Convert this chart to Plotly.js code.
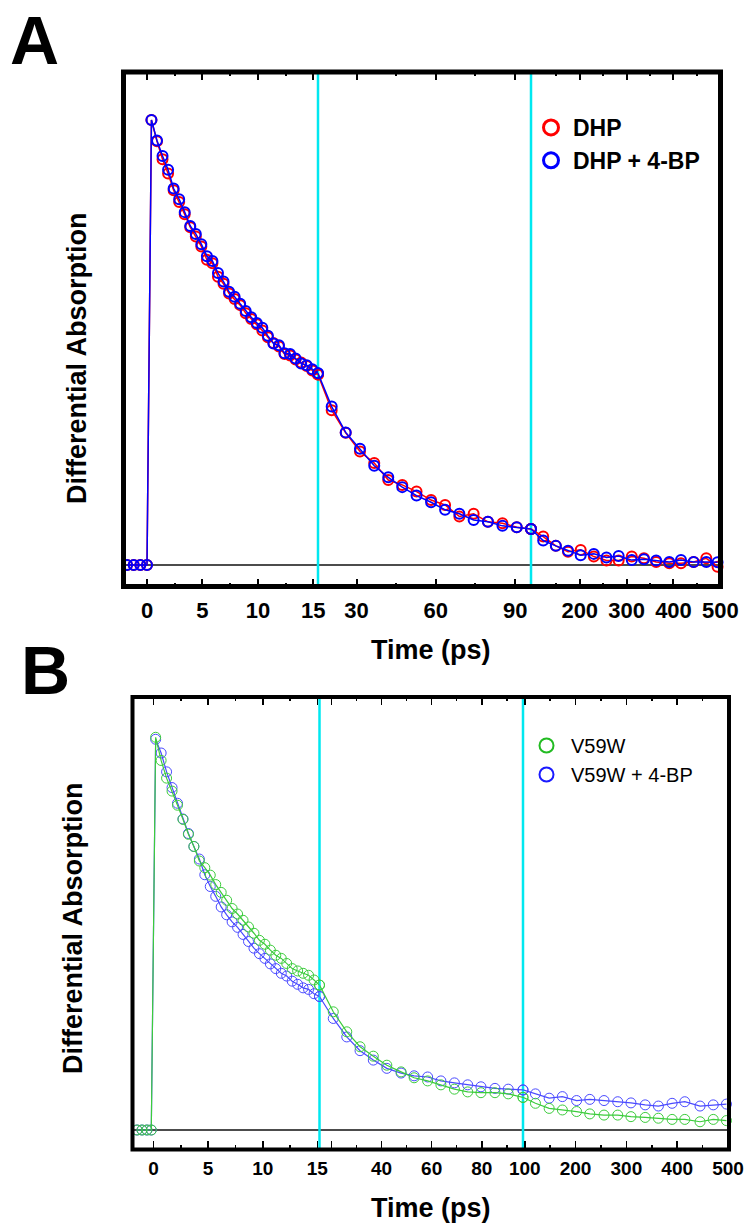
<!DOCTYPE html>
<html>
<head>
<meta charset="utf-8">
<script src="https://cdn.plot.ly/plotly-3.0.1.min.js"></script>
<style>html,body{margin:0;padding:0;background:#fff;}#chart{width:748px;height:1228px;}</style>
</head>
<body>
<div id="chart"></div>
<script>
// ---------------- DATA ----------------
// Panel A (time in ps)
const timeA = [-1.8, -1.2, -0.6, 0,
  0.4, 0.9, 1.4, 1.9, 2.4, 2.9, 3.4, 3.9, 4.4, 4.9, 5.4, 5.9, 6.4, 6.9, 7.4, 7.9,
  8.4, 8.9, 9.4, 9.9, 10.4, 10.9, 11.4, 11.9, 12.4, 12.9, 13.4, 13.9, 14.4, 14.9, 15.42,
  20.6, 25.9, 31.3, 36.7, 42.0, 47.3, 52.7, 58.2, 63.5, 68.9, 74.3, 79.7, 85.2, 90.6, 96,
  122, 149, 175, 202, 230, 257, 283, 311, 337, 363, 391, 416, 443, 470, 494];
const dhp = [0, 0, 0, 0,
  1.000, 0.952, 0.912, 0.880, 0.842, 0.816, 0.788, 0.759, 0.738, 0.716, 0.686, 0.678, 0.648, 0.632, 0.610, 0.598,
  0.584, 0.566, 0.553, 0.541, 0.527, 0.512, 0.499, 0.491, 0.474, 0.471, 0.462, 0.455, 0.447, 0.437, 0.428,
  0.348, 0.297, 0.255, 0.229, 0.191, 0.180, 0.165, 0.146, 0.135, 0.109, 0.115, 0.097, 0.094, 0.085, 0.081,
  0.064, 0.043, 0.030, 0.034, 0.019, 0.010, 0.010, 0.019, 0.015, 0.007, 0.004, 0.004, 0.007, 0.015, -0.004];
const dhpBP = [0, 0, 0, 0,
  1.000, 0.954, 0.919, 0.888, 0.846, 0.822, 0.793, 0.762, 0.744, 0.721, 0.694, 0.683, 0.656, 0.637, 0.614, 0.603,
  0.587, 0.571, 0.557, 0.544, 0.533, 0.515, 0.498, 0.494, 0.476, 0.474, 0.464, 0.453, 0.449, 0.440, 0.431,
  0.356, 0.298, 0.261, 0.223, 0.197, 0.175, 0.156, 0.141, 0.124, 0.115, 0.101, 0.097, 0.088, 0.085, 0.081,
  0.055, 0.043, 0.032, 0.022, 0.025, 0.017, 0.020, 0.011, 0.013, 0.010, 0.007, 0.011, 0.007, 0.007, 0.006];

// Panel B (time in ps)
const timeB = [-1.5, -1.05, -0.6, -0.2,
  0.2, 0.7, 1.2, 1.7, 2.2, 2.7, 3.2, 3.7, 4.2, 4.7, 5.2, 5.7, 6.2, 6.7, 7.2, 7.7,
  8.2, 8.7, 9.2, 9.7, 10.2, 10.7, 11.2, 11.7, 12.2, 12.7, 13.2, 13.7, 14.2, 14.7, 15.2,
  20.7, 26.1, 31.4, 36.7, 42.1, 47.8, 53.0, 58.4, 63.7, 69.1, 74.4, 79.7, 85.3, 90.6, 96.5,
  121, 148, 174, 202, 228, 256, 283, 309, 337, 363, 390, 415, 445, 471, 497];
const v59w = [0, 0, 0, 0,
  1.000, 0.941, 0.896, 0.863, 0.827, 0.791, 0.753, 0.722, 0.685, 0.668, 0.649, 0.625, 0.605, 0.585, 0.564, 0.550,
  0.534, 0.517, 0.501, 0.483, 0.473, 0.458, 0.445, 0.437, 0.424, 0.411, 0.405, 0.399, 0.394, 0.382, 0.369,
  0.301, 0.250, 0.212, 0.188, 0.165, 0.148, 0.133, 0.125, 0.115, 0.104, 0.097, 0.095, 0.095, 0.092, 0.083,
  0.068, 0.055, 0.051, 0.047, 0.041, 0.038, 0.038, 0.034, 0.032, 0.030, 0.027, 0.027, 0.021, 0.027, 0.024];
const v59wBP = [0, 0, 0, 0,
  0.995, 0.960, 0.912, 0.872, 0.832, 0.792, 0.755, 0.722, 0.690, 0.650, 0.620, 0.595, 0.568, 0.548, 0.530, 0.516,
  0.498, 0.480, 0.463, 0.449, 0.437, 0.423, 0.411, 0.399, 0.392, 0.379, 0.371, 0.362, 0.358, 0.347, 0.340,
  0.284, 0.237, 0.202, 0.178, 0.157, 0.145, 0.138, 0.135, 0.125, 0.120, 0.115, 0.110, 0.106, 0.104, 0.102,
  0.092, 0.081, 0.085, 0.075, 0.078, 0.075, 0.072, 0.069, 0.064, 0.061, 0.068, 0.072, 0.061, 0.064, 0.066];

// Tick labels
const ticksA = [[0, 5, 10, 15], [30, 60, 90], [200, 300, 400, 500]];
const minorA = [[2.5, 7.5, 12.5], [45, 75], [150, 250, 350, 450]];
const ticksB = [[0, 5, 10, 15], [20, 40, 60, 80], [100, 200, 300, 400, 500]];
const tickTextB = [["0", "5", "10", "15"], ["", "40", "60", "80"], ["100", "200", "300", "400", "500"]];
const minorB = [[2.5, 7.5, 12.5], [30, 50, 70, 90], [150, 250, 350, 450]];

// ---------------- LAYOUT HELPERS ----------------
const W = 748, H = 1228;
const FONT = 'Arial, "Liberation Sans", sans-serif';
const px = v => v / W;
const py = v => 1 - v / H;

// axis break segments (time ranges) and their pixel extents
const segA = [[-2.12, 15.42], [15.42, 96], [96, 500.3]];
const segApx = [[123.5, 318], [318, 531], [531, 720.5]];
const segB = [[-1.92, 15.2], [15.2, 96.5], [96.5, 502]];
const segBpx = [[132.5, 319.5], [319.5, 523], [523, 729]];
const yA = [72, 586.5], yB = [697, 1149.4];

function pick(t, v, lo, hi) {
  const xs = [], ys = [];
  for (let i = 0; i < t.length; i++) {
    if (t[i] >= lo - 1e-9 && t[i] <= hi + 1e-9) { xs.push(t[i]); ys.push(v[i]); }
  }
  return {x: xs, y: ys};
}

const traces = [];
function addSeries(t, v, segs, xaxes, yaxis, color, msize, mlw, lw) {
  segs.forEach((s, i) => {
    const d = pick(t, v, s[0], s[1]);
    traces.push({
      type: 'scatter', mode: 'lines+markers', x: d.x, y: d.y,
      xaxis: xaxes[i], yaxis: yaxis, showlegend: false, cliponaxis: false,
      line: {color: color, width: lw},
      marker: {symbol: 'circle-open', size: msize, color: color, line: {color: color, width: mlw}}
    });
  });
}
addSeries(timeA, dhp, segA, ['x', 'x2', 'x3'], 'y', '#ff0000', 10, 2, 1.5);
addSeries(timeA, dhpBP, segA, ['x', 'x2', 'x3'], 'y', '#0000ff', 10, 2, 1.5);
addSeries(timeB, v59wBP, segB, ['x4', 'x5', 'x6'], 'y2', '#4a4aff', 10, 1, 1.2);
addSeries(timeB, v59w, segB, ['x4', 'x5', 'x6'], 'y2', '#3ccc3c', 10, 1, 1.2);

// legend-only entries
function legendEntry(name, color, lg, xa, ya, size, lw) {
  traces.push({type: 'scatter', mode: 'markers', x: [null], y: [null], xaxis: xa, yaxis: ya,
    name: name, legend: lg, showlegend: true,
    marker: {symbol: 'circle-open', size: size, color: color, line: {color: color, width: lw}}});
}
legendEntry('DHP', '#ff0000', 'legend', 'x', 'y', 15, 3);
legendEntry('DHP + 4-BP', '#0000ff', 'legend', 'x', 'y', 15, 3);
legendEntry('V59W', '#22bb22', 'legend2', 'x4', 'y2', 14, 2);
legendEntry('V59W + 4-BP', '#1a1aff', 'legend2', 'x4', 'y2', 14, 2);

const layout = {
  width: W, height: H,
  margin: {l: 0, r: 0, t: 0, b: 0, pad: 0},
  paper_bgcolor: '#ffffff', plot_bgcolor: '#ffffff',
  font: {family: FONT, color: '#000'},
  showlegend: true,
  legend: {x: px(529), y: py(106), xanchor: 'left', yanchor: 'top', bgcolor: 'rgba(0,0,0,0)',
    font: {family: FONT, size: 23, weight: 'bold', color: '#000'}, itemwidth: 34, tracegroupgap: 0},
  legend2: {x: px(522), y: py(726), xanchor: 'left', yanchor: 'top', bgcolor: 'rgba(0,0,0,0)',
    font: {family: FONT, size: 20, color: '#000'}, itemwidth: 39, tracegroupgap: 0},
  shapes: [], annotations: []
};

function xAxisDef(range, dom, anchor, tv, tt, mv, fsize, tl, tw, standoff) {
  return {
    domain: [px(dom[0]), px(dom[1])], range: range, anchor: anchor,
    showgrid: false, zeroline: false, showline: false,
    ticks: 'inside', mirror: 'ticks', ticklen: tl, tickwidth: tw, tickcolor: '#000',
    tickmode: 'array', tickvals: tv, ticktext: tt,
    tickfont: {family: FONT, size: fsize, weight: 'bold', color: '#000'},
    ticklabelstandoff: standoff,
    minor: {tickmode: 'array', tickvals: mv, ticks: 'inside', ticklen: tl * 0.5, tickwidth: tw, tickcolor: '#000'},
    fixedrange: true
  };
}
const axNamesA = ['xaxis', 'xaxis2', 'xaxis3'];
const axNamesB = ['xaxis4', 'xaxis5', 'xaxis6'];
for (let i = 0; i < 3; i++) {
  layout[axNamesA[i]] = xAxisDef(segA[i], segApx[i], 'y', ticksA[i], ticksA[i].map(String), minorA[i], 22, 8, 2, 8);
  layout[axNamesB[i]] = xAxisDef(segB[i], segBpx[i], 'y2', ticksB[i], tickTextB[i], minorB[i], 19, 8, 1.6, 6);
}
// y ranges derived from baseline/peak pixel rows
layout.yaxis = {domain: [py(yA[1]), py(yA[0])], range: [-0.0483, 1.1079], anchor: 'x',
  showticklabels: false, ticks: '', showgrid: false, zeroline: false, showline: false, fixedrange: true};
layout.yaxis2 = {domain: [py(yB[1]), py(yB[0])], range: [-0.0494, 1.1026], anchor: 'x4',
  showticklabels: false, ticks: '', showgrid: false, zeroline: false, showline: false, fixedrange: true};

// frames, break lines, baselines
function frame(x0, x1, y0, y1, w) {
  layout.shapes.push({type: 'rect', xref: 'paper', yref: 'paper', x0: px(x0), x1: px(x1), y0: py(y1), y1: py(y0),
    line: {color: '#000', width: w}, fillcolor: 'rgba(0,0,0,0)', layer: 'above'});
}
function vline(x, y0, y1) {
  layout.shapes.push({type: 'line', xref: 'paper', yref: 'paper', x0: px(x), x1: px(x), y0: py(y1), y1: py(y0),
    line: {color: '#00e8f0', width: 2.5}, layer: 'below'});
}
function baseline(x0, x1, yref) {
  layout.shapes.push({type: 'line', xref: 'paper', yref: yref, x0: px(x0), x1: px(x1), y0: 0, y1: 0,
    line: {color: '#111', width: 1.6}, layer: 'below'});
}
baseline(segApx[0][0], segApx[2][1], 'y');
baseline(segBpx[0][0], segBpx[2][1], 'y2');
vline(segApx[1][0], yA[0], yA[1]); vline(segApx[2][0], yA[0], yA[1]);
vline(segBpx[1][0], yB[0], yB[1]); vline(segBpx[2][0], yB[0], yB[1]);
frame(segApx[0][0], segApx[2][1], yA[0], yA[1], 5);
frame(segBpx[0][0], segBpx[2][1], yB[0], yB[1], 4);

function ann(text, x, y, size, angle) {
  layout.annotations.push({text: text, xref: 'paper', yref: 'paper', x: px(x), y: py(y),
    xanchor: 'center', yanchor: 'middle', showarrow: false, textangle: angle || 0,
    font: {family: FONT, size: size, weight: 'bold', color: '#000'}});
}
ann('A', 34, 40, 68);
ann('B', 45, 670, 68);
ann('Differential Absorption', 77, 358, 27, -90);
ann('Differential Absorption', 73, 928, 27, -90);
ann('Time (ps)', 431, 650, 27);
ann('Time (ps)', 431, 1208, 27);

Plotly.newPlot('chart', traces, layout, {staticPlot: true, displayModeBar: false});
</script>
</body>
</html>
